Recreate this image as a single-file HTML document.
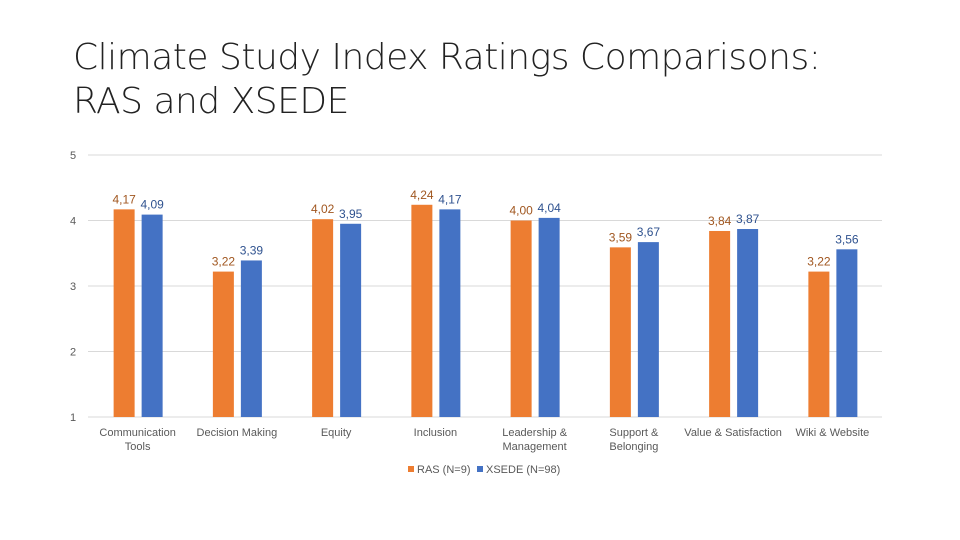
<!DOCTYPE html>
<html><head><meta charset="utf-8"><style>
body{margin:0;background:#fff;width:960px;height:540px;overflow:hidden;font-family:"Liberation Sans",sans-serif}
h1{position:absolute;left:73px;top:36px;margin:0;font-weight:normal;font-size:36px;line-height:44px;color:#222;font-family:"DejaVu Sans","Liberation Sans",sans-serif;font-weight:200;letter-spacing:-0.5px}
svg{position:absolute;left:0;top:0}
</style></head><body>
<h1>Climate Study Index Ratings Comparisons:<br>RAS and XSEDE</h1>
<svg id="c" width="960" height="540"></svg>
<script>
const categories=[["Communication","Tools"],["Decision Making"],["Equity"],["Inclusion"],["Leadership &","Management"],["Support &","Belonging"],["Value & Satisfaction"],["Wiki & Website"]];
const rasValues=[4.17,3.22,4.02,4.24,4.00,3.59,3.84,3.22];
const xsedeValues=[4.09,3.39,3.95,4.17,4.04,3.67,3.87,3.56];
const yTicks=[1,2,3,4,5];
const seriesNames=["RAS (N=9)","XSEDE (N=98)"];
const svg=document.getElementById('c');const NS='http://www.w3.org/2000/svg';
const x0=88,x1=882,yTop=155,yBot=417;
const y=v=>yBot-(v-1)/(5-1)*(yBot-yTop);
const bw=(x1-x0)/categories.length;
const cx=i=>x0+bw*(i+0.5);
function el(t,a,txt){const e=document.createElementNS(NS,t);for(const k in a)e.setAttribute(k,a[k]);if(txt!==undefined)e.textContent=txt;svg.appendChild(e);return e;}
yTicks.forEach(t=>{
 const g=el('line',{x1:x0,x2:x1,y1:y(t),y2:y(t),stroke:'#d9d9d9','stroke-width':1});
 
 const l=el('text',{x:73,y:y(t)+4,'font-size':11,fill:'#595959','text-anchor':'middle'},String(t));
 
});
const cols=['#ed7d31','#4472c4'],lcols=['#a0561f','#2f528f'];
categories.forEach((c,i)=>{
 [rasValues[i],xsedeValues[i]].forEach((v,s)=>{
  const bx=cx(i)+(s===0?-24:4);
  const r=el('rect',{x:bx,y:y(v),width:21,height:yBot-y(v),fill:cols[s]});
  
  const t=el('text',{x:bx+10.5,y:y(v)-6,'font-size':12,fill:lcols[s],'text-anchor':'middle'},v.toFixed(2).replace('.',','));
  
 });
 c.forEach((line,k)=>{
  const t=el('text',{x:cx(i),y:436+k*14,'font-size':11,fill:'#595959','text-anchor':'middle'},line);
  
 });
});
const lx=[408,477];
seriesNames.forEach((n,s)=>{
 const r=el('rect',{x:lx[s],y:466,width:6,height:6,fill:cols[s]});
 
 const t=el('text',{x:lx[s]+9,y:473,'font-size':11,fill:'#595959'},n);
 
});
</script>
</body></html>
